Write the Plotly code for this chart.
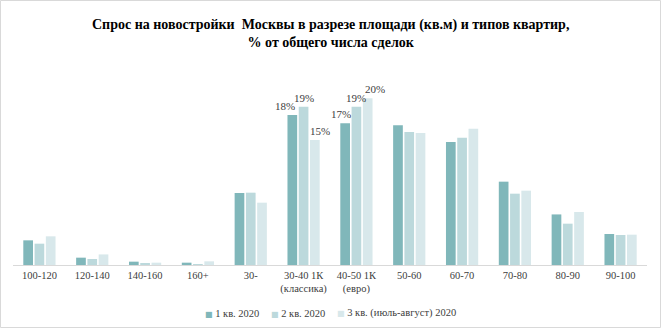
import plotly.graph_objects as go

# Apartment size ranges (sq.m) and flat types
categories = [
    "100-120", "120-140", "140-160", "160+", "30-",
    "30-40 1К<br>(классика)", "40-50 1К<br>(евро)",
    "50-60", "60-70", "70-80", "80-90", "90-100",
]
series_names = ["1 кв. 2020", "2 кв. 2020", "3 кв. (июль-август) 2020"]

# Share of total deals, %
q1 = [2.96, 0.88, 0.40, 0.28, 8.64, 18, 17, 16.76, 14.76, 10.00, 6.07, 3.72]
q2 = [2.56, 0.72, 0.20, 0.08, 8.68, 19, 19, 15.96, 15.28, 8.56, 4.96, 3.60]
q3 = [3.44, 1.27, 0.28, 0.44, 7.48, 15, 20, 15.84, 16.36, 8.92, 6.36, 3.64]

# categories that carry value labels, with a horizontal nudge per series (px)
labelled = {
    "30-40 1К<br>(классика)": [-7, 0, 5],
    "40-50 1К<br>(евро)": [-4, 0, 7],
}

title_text = ("<b>Спрос на новостройки  Москвы в разрезе площади (кв.м) и типов квартир,"
              "<br>% от общего числа сделок</b>")

colors = ["#80b7ba", "#bcd9dc", "#d8e8eb"]
SERIF = "Liberation Serif, Times New Roman, serif"

W, H = 661, 329
ML, MR, MT, MB = 13, 14, 81, 64
PW, PH = W - ML - MR, H - MT - MB
PX_PER_PCT = 8.333
BARGAP, BARGROUPGAP = 0.36, 0.14


def paper_y(px):
    """Convert a pixel row (from the top of the figure) to paper y."""
    return (MT + PH - px) / PH


def paper_x(px):
    """Convert a pixel column (from the left of the figure) to paper x."""
    return (px - ML) / PW


fig = go.Figure()
for name, vals, col in zip(series_names, [q1, q2, q3], colors):
    fig.add_trace(go.Bar(
        x=categories,
        y=vals,
        name=name,
        marker=dict(color=col, line=dict(width=0)),
        showlegend=False,
    ))

# value labels above the bars of the labelled groups
cat_px = PW / len(categories)
slot_px = cat_px * (1 - BARGAP) / len(series_names)
for i, vals in enumerate([q1, q2, q3]):
    bar_off = (i - (len(series_names) - 1) / 2) * slot_px
    for c, v in zip(categories, vals):
        if c in labelled:
            fig.add_annotation(
                x=c, y=v, xref="x", yref="y",
                text=f"{v:.0f}%", showarrow=False,
                xanchor="center", yanchor="bottom",
                xshift=bar_off + labelled[c][i], yshift=1,
                font=dict(family=SERIF, size=11, color="#404040"),
            )

# chart title
fig.add_annotation(
    xref="paper", yref="paper",
    x=paper_x(W / 2), y=paper_y(15),
    xanchor="center", yanchor="top",
    text=title_text, showarrow=False, align="center",
    font=dict(family=SERIF, size=14, color="#000000"),
)

fig.update_layout(
    width=W, height=H,
    margin=dict(l=ML, r=MR, t=MT, b=MB),
    paper_bgcolor="white", plot_bgcolor="white",
    barmode="group", bargap=BARGAP, bargroupgap=BARGROUPGAP,
    font=dict(family=SERIF, size=10, color="#404040"),
)

fig.update_xaxes(
    showline=True, linecolor="#d9d9d9", linewidth=1,
    showgrid=False, ticks="", tickfont=dict(family=SERIF, size=10.5, color="#404040"),
    tickangle=0,
)
fig.update_yaxes(
    visible=False, showgrid=False, zeroline=False,
    range=[0, PH / PX_PER_PCT],
)

# legend built from small square glyphs and labels
legend_left_px = [203, 269, 335]
legend_y_px = 313
for name, col, lx in zip(series_names, colors, legend_left_px):
    fig.add_annotation(
        xref="paper", yref="paper",
        x=paper_x(lx), y=paper_y(legend_y_px),
        xanchor="left", yanchor="middle",
        text=f"<span style='color:{col};font-family:DejaVu Sans;font-size:8px'>■</span> {name}",
        showarrow=False,
        font=dict(family=SERIF, size=10.5, color="#404040"),
    )

# thin frame around the whole chart
fig.add_shape(
    type="rect", xref="paper", yref="paper",
    x0=paper_x(0.5), x1=paper_x(W - 0.5),
    y0=paper_y(H - 1.5), y1=paper_y(0.5),
    line=dict(color="#d9d9d9", width=1), fillcolor="rgba(0,0,0,0)",
    layer="below",
)

fig.write_html("out.html")
